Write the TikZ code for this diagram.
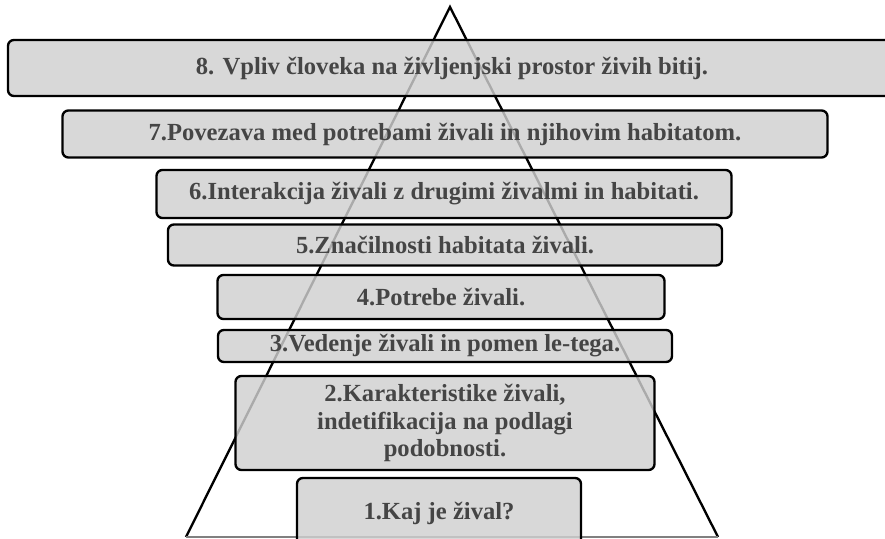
\documentclass[tikz,border=0pt]{standalone}
\usepackage{fontspec}
\setmainfont{Liberation Serif}
\usepackage{xcolor}
\usetikzlibrary{positioning}
\definecolor{boxGray}{HTML}{D0D0D0}
\definecolor{txtGray}{HTML}{454545}
\tikzset{
  stage/.style={draw=black, line width=2pt, rounded corners=5pt, fill=boxGray, fill opacity=0.82, text opacity=1,
    text=txtGray, font=\bfseries\fontsize{21}{23.5}\selectfont, inner sep=0pt, align=center},
  pyr/.style={draw=black, line width=2pt, line join=miter}
}

\begin{document}
\begin{tikzpicture}[x=0.03cm, y=-0.03cm]
\useasboundingbox (0,0) rectangle (885,539);
\clip (0,0) rectangle (885,539);
% ---- pyramid behind the stages ----
\coordinate (apex) at (450,7);
\coordinate (baseL) at (186,537);
\coordinate (baseR) at (718,537);
\draw[pyr] (baseL) -- (apex) -- (baseR);
\draw[gray, line width=1pt] (baseL) -- (baseR);
% ---- stages, top to bottom ----
\node[stage, minimum width=888*0.03cm, minimum height=56*0.03cm] (s8) at (452,68)  {8. Vpliv človeka na življenjski prostor živih bitij.};
\node[stage, minimum width=765*0.03cm, minimum height=47*0.03cm] (s7) at (445,134) {7.Povezava med potrebami živali in njihovim habitatom.};
\node[stage, minimum width=575*0.03cm, minimum height=48*0.03cm] (s6) at (444,194) {6.Interakcija živali z drugimi živalmi in habitati.};
\node[stage, minimum width=554*0.03cm, minimum height=41*0.03cm] (s5) at (445,245) {5.Značilnosti habitata živali.};
\node[stage, minimum width=447*0.03cm, minimum height=44*0.03cm] (s4) at (441,297) {4.Potrebe živali.};
\node[stage, minimum width=454*0.03cm, minimum height=32*0.03cm] (s3) at (445,346) {3.Vedenje živali in pomen le-tega.};
\node[stage, minimum width=419*0.03cm, minimum height=94*0.03cm] (s2) at (445,423) {2.Karakteristike živali,\\ indetifikacija na podlagi\\ podobnosti.};
\node[stage, minimum width=284*0.03cm, minimum height=70*0.03cm] (s1) at (439,513) {1.Kaj je žival?};
\end{tikzpicture}
\end{document}
